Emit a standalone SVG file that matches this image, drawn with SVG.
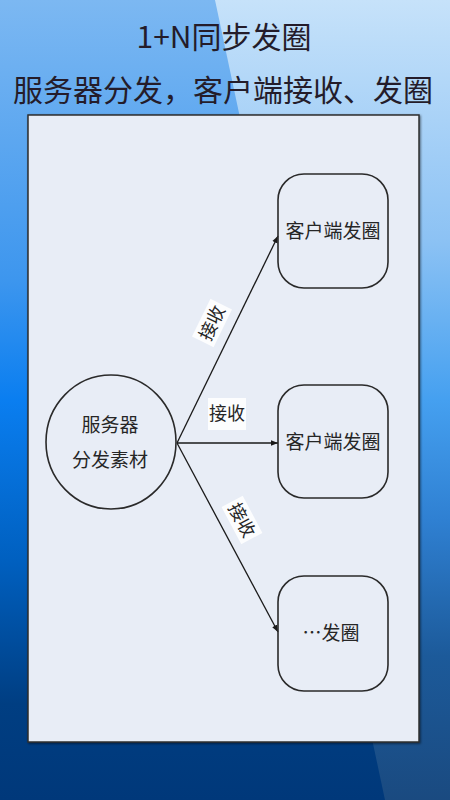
<svg xmlns="http://www.w3.org/2000/svg" width="450" height="800" viewBox="0 0 450 800">
<defs>
<linearGradient id="bgL" x1="0" y1="0" x2="0" y2="1">
<stop offset="0" stop-color="#7cb8f2"/>
<stop offset="0.35" stop-color="#3d96ee"/>
<stop offset="0.5" stop-color="#0a7ef0"/>
<stop offset="0.7" stop-color="#0060c0"/>
<stop offset="0.88" stop-color="#003e82"/>
<stop offset="1" stop-color="#00387a"/>
</linearGradient>
<linearGradient id="bgR" x1="0" y1="0" x2="0" y2="1">
<stop offset="0" stop-color="#c6e2fa"/>
<stop offset="0.3" stop-color="#8cc2f4"/>
<stop offset="0.5" stop-color="#45a0f0"/>
<stop offset="0.65" stop-color="#2f80d2"/>
<stop offset="0.82" stop-color="#1c5a9a"/>
<stop offset="1" stop-color="#1a4a80"/>
</linearGradient>
<marker id="arr" viewBox="0 0 10 10" refX="10" refY="5" markerWidth="7" markerHeight="7" orient="auto" markerUnits="userSpaceOnUse">
<path d="M0,1 L10,5 L0,9 z" fill="#1a1a1a"/>
</marker>
<filter id="sh" x="-5%" y="-5%" width="110%" height="110%">
<feDropShadow dx="1" dy="1" stdDeviation="1" flood-color="#000" flood-opacity="0.5"/>
</filter>
</defs>
<style>
.title{font-family:"Noto Sans CJK SC","Noto Sans",sans-serif;fill:#241c2a;text-anchor:middle}
.node{fill:none;stroke:#2a2a2a;stroke-width:1.6}
.nt{font-family:"Noto Sans CJK SC",sans-serif;font-size:19px;fill:#262626;text-anchor:middle;font-weight:400}
.lbl{font-family:"Noto Sans CJK SC",sans-serif;font-size:18px;fill:#262626;text-anchor:middle;font-weight:400}
.lbg{fill:#ffffff;opacity:0.85}
.edge{stroke:#1a1a1a;stroke-width:1.3;fill:none;marker-end:url(#arr)}
</style>
<rect x="0" y="0" width="450" height="800" fill="url(#bgL)"/>
<polygon points="215,0 450,0 450,800 385,800" fill="url(#bgR)"/>
<text class="title" x="224" y="48" font-size="30">1+N同步发圈</text>
<text class="title" x="223" y="101" font-size="30">服务器分发，客户端接收、发圈</text>
<rect id="panel" x="28" y="115" width="391" height="627" fill="#e8edf6" stroke="#2e2e2e" stroke-width="1.5" filter="url(#sh)"/>
<g id="connectors">
<line class="edge" x1="177" y1="443" x2="278" y2="236"/>
<line class="edge" x1="177" y1="443" x2="278" y2="443"/>
<line class="edge" x1="177" y1="443" x2="278" y2="632"/>
<g transform="translate(212,323) rotate(-64)">
<rect class="lbg" x="-21" y="-12" width="42" height="24"/>
<text class="lbl" x="0" y="6.5">接收</text>
</g>
<g transform="translate(227,413)">
<rect class="lbg" x="-19" y="-15" width="38" height="32"/>
<text class="lbl" x="0" y="6.5">接收</text>
</g>
<g transform="translate(242,520) rotate(62)">
<rect class="lbg" x="-21" y="-12" width="42" height="24"/>
<text class="lbl" x="0" y="6.5">接收</text>
</g>
</g>
<g id="server">
<ellipse class="node" cx="111" cy="442" rx="65" ry="67"/>
<text class="nt" x="110" y="432">服务器</text>
<text class="nt" x="110" y="467">分发素材</text>
</g>
<g id="client1">
<rect class="node" x="278" y="174" width="110" height="114" rx="26" ry="26"/>
<text class="nt" x="333" y="238">客户端发圈</text>
</g>
<g id="client2">
<rect class="node" x="278" y="385" width="110" height="113" rx="26" ry="26"/>
<text class="nt" x="333" y="449">客户端发圈</text>
</g>
<g id="client3">
<rect class="node" x="278" y="576" width="110" height="115" rx="26" ry="26"/>
<text class="nt" x="331" y="640">…发圈</text>
</g>
</svg>
